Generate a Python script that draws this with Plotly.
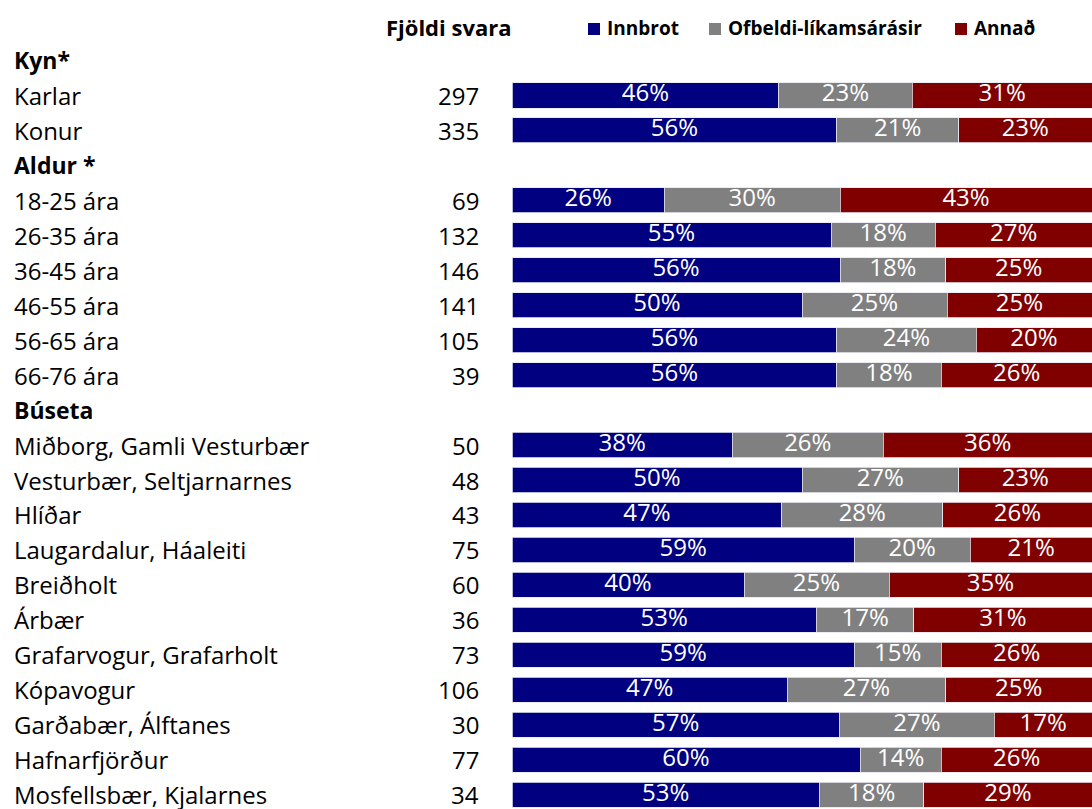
import plotly.graph_objects as go

rows = ["Kyn*", "Karlar", "Konur", "Aldur *", "18-25 ára", "26-35 ára", "36-45 ára",
        "46-55 ára", "56-65 ára", "66-76 ára", "Búseta", "Miðborg, Gamli Vesturbær",
        "Vesturbær, Seltjarnarnes", "Hlíðar", "Laugardalur, Háaleiti", "Breiðholt", "Árbær",
        "Grafarvogur, Grafarholt", "Kópavogur", "Garðabær, Álftanes", "Hafnarfjörður",
        "Mosfellsbær, Kjalarnes"]
is_header = [True, False, False, True, False, False, False, False, False, False, True,
             False, False, False, False, False, False, False, False, False, False, False]
counts = [None, 297, 335, None, 69, 132, 146, 141, 105, 39, None, 50, 48, 43, 75, 60, 36,
          73, 106, 30, 77, 34]
innbrot = [None, 46, 56, None, 26, 55, 56, 50, 56, 56, None, 38, 50, 47, 59, 40, 53, 59,
           47, 57, 60, 53]
ofbeldi = [None, 23, 21, None, 30, 18, 18, 25, 24, 18, None, 26, 27, 28, 20, 25, 17, 15,
           27, 27, 14, 18]
annad = [None, 31, 23, None, 43, 27, 25, 25, 20, 26, None, 36, 23, 26, 21, 35, 31, 26,
         25, 17, 26, 29]
series_names = ["Innbrot", "Ofbeldi-líkamsárásir", "Annað"]
series_colors = ["#000080", "#808080", "#800000"]
series = [innbrot, ofbeldi, annad]

FONT = "Open Sans"
n = len(rows)
ypos = list(range(n))

fig = go.Figure()
for name, col, vals in zip(series_names, series_colors, series):
    fig.add_trace(go.Bar(y=ypos, x=vals, orientation="h", name=name,
                         marker=dict(color=col, line=dict(color="#e6e6ee", width=0.8)),
                         width=0.72, showlegend=False, hoverinfo="skip"))

# value labels centred in the normalised segments
tx, ty, tt = [], [], []
for i in range(n):
    if innbrot[i] is None:
        continue
    tot = innbrot[i] + ofbeldi[i] + annad[i]
    start = 0.0
    for vals in series:
        w = vals[i] / tot * 100
        tx.append(start + w / 2)
        ty.append(i)
        tt.append(f"{vals[i]}%")
        start += w
fig.add_trace(go.Scatter(x=tx, y=ty, mode="text", text=tt, showlegend=False,
                         textfont=dict(family=FONT, size=24, color="white"),
                         hoverinfo="skip", cliponaxis=False))

L, R = 512, 0
W, H = 1092, 809
T = 43
pw = W - L - R
ph = H - T

def px_x(p):
    return (p - L) / pw

def px_y(p):
    return 1 + (T - p) / ph

ann = []
for i, lab in enumerate(rows):
    ann.append(dict(x=px_x(13), y=i, xref="paper", yref="y", text=(f"<b>{lab}</b>" if is_header[i] else lab),
                    showarrow=False, xanchor="left", yanchor="middle", borderpad=0,
                    font=dict(family=FONT, size=24 if not is_header[i] else 23, color="black")))
    if counts[i] is not None:
        ann.append(dict(x=px_x(480), y=i, xref="paper", yref="y", text=str(counts[i]),
                        showarrow=False, xanchor="right", yanchor="middle", borderpad=0,
                        font=dict(family=FONT, size=24, color="black")))

ann.append(dict(x=px_x(449), y=px_y(27), xref="paper", yref="paper", text="<b>Fjöldi svara</b>",
                showarrow=False, xanchor="center", yanchor="middle",
                font=dict(family=FONT, size=22, color="black")))

shapes = []
leg_sq = [588, 709, 955]
for name, col, x0 in zip(series_names, series_colors, leg_sq):
    shapes.append(dict(type="rect", xref="paper", yref="paper",
                       x0=px_x(x0), x1=px_x(x0 + 12), y0=px_y(35), y1=px_y(23),
                       fillcolor=col, line=dict(width=0)))
    ann.append(dict(x=px_x(x0 + 17), y=px_y(28), xref="paper", yref="paper", text=f"<b>{name}</b>",
                    showarrow=False, xanchor="left", yanchor="middle",
                    font=dict(family=FONT, size=19, color="black")))

fig.update_layout(
    width=W, height=H,
    margin=dict(l=L, r=R, t=T, b=0, pad=0),
    barmode="stack", barnorm="percent",
    plot_bgcolor="white", paper_bgcolor="white",
    xaxis=dict(range=[0, 100], visible=False, fixedrange=True),
    yaxis=dict(range=[n - 1 + 0.41, -0.5], visible=False, fixedrange=True),
    annotations=ann, shapes=shapes,
    showlegend=False,
)

fig.write_html("out.html", config={"displayModeBar": False, "staticPlot": True},
               post_script="document.body.style.margin='0';document.body.style.overflow='hidden';")
